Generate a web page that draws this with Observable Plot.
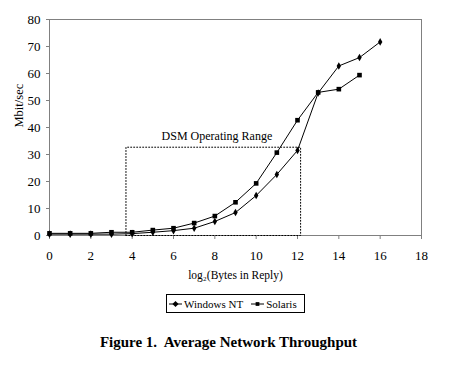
<!DOCTYPE html>
<html>
<head>
<meta charset="utf-8">
<script src="https://cdn.jsdelivr.net/npm/d3@7"></script>
<script src="https://cdn.jsdelivr.net/npm/@observablehq/plot@0.6"></script>
<style>
  html, body { margin: 0; padding: 0; background: #fff; }
  #wrap { position: relative; width: 455px; height: 365px; font-family: "Liberation Serif", "Times New Roman", serif; }
  #legend { position: absolute; left: 166px; top: 294px; width: 137px; height: 17px; border: 1px solid #000; box-sizing: content-box; display: flex; align-items: center; font-size: 11px; white-space: nowrap; }
  #legend .item { display: flex; align-items: center; margin-left: 2px; }
  #legend svg { display: block; margin-right: 2px; }
  #caption { position: absolute; left: 0; width: 457px; top: 334px; text-align: center; font-weight: bold; font-size: 15px; white-space: pre; }
</style>
</head>
<body>
<div id="wrap">
  <div id="chart"></div>
  <div id="legend"></div>
  <div id="caption"></div>
</div>
<script>
// ---- data ----
const xValues   = [0, 1, 2, 3, 4, 5, 6, 7, 8, 9, 10, 11, 12, 13, 14, 15, 16];
const windowsNT = [0.5, 0.5, 0.5, 0.5, 0.7, 1.2, 1.8, 2.7, 5.2, 8.5, 14.8, 22.6, 31.5, 52.8, 62.8, 65.9, 71.7];
const solarisX  = [0, 1, 2, 3, 4, 5, 6, 7, 8, 9, 10, 11, 12, 13, 14, 15];
const solaris   = [0.8, 0.8, 0.8, 1.2, 1.2, 2.0, 2.7, 4.6, 7.2, 12.3, 19.3, 30.7, 42.7, 53.0, 54.2, 59.4];
const seriesNames = ["Windows NT", "Solaris"];
const xTicks = [0, 2, 4, 6, 8, 10, 12, 14, 16, 18];
const yTicks = [0, 10, 20, 30, 40, 50, 60, 70, 80];
const dsmRangeX = [3.7, 12.15];
const dsmRangeTop = 32.7;
const dsmLabel = "DSM Operating Range";
const dsmLabelX = 8.1;
const dsmLabelY = 35.5;
const xLabel = "log\u2082(Bytes in Reply)";
const yLabel = "Mbit/sec";
const captionText = "Figure 1.  Average Network Throughput";

const nt = xValues.map((x, i) => ({x, y: windowsNT[i], s: seriesNames[0]}));
const sol = solarisX.map((x, i) => ({x, y: solaris[i], s: seriesNames[1]}));
const dsmBox = [
  {x: dsmRangeX[0], y: 0}, {x: dsmRangeX[0], y: dsmRangeTop},
  {x: dsmRangeX[1], y: dsmRangeTop}, {x: dsmRangeX[1], y: 0}, {x: dsmRangeX[0], y: 0}
];

const gray = "#808080";
const chart = Plot.plot({
  width: 455,
  height: 290,
  marginLeft: 49,
  marginRight: 34,
  marginTop: 19,
  marginBottom: 55,
  style: {fontFamily: "Liberation Serif, Times New Roman, serif", fontSize: "12px", background: "white", color: "black"},
  x: {domain: [0, 18]},
  y: {domain: [0, 80]},
  marks: [
    Plot.frame({stroke: gray}),
    Plot.axisX({ticks: xTicks, tickSize: 4, tickPadding: 11, stroke: gray, label: null, fontSize: 13}),
    Plot.axisY({ticks: yTicks, tickSize: 3, tickPadding: 6, stroke: gray, label: null, fontSize: 13}),
    Plot.line(dsmBox, {x: "x", y: "y", stroke: "black", strokeWidth: 1, strokeDasharray: "1,2"}),
    Plot.text([dsmLabel], {x: () => dsmLabelX, y: () => dsmLabelY, text: d => d, fontSize: 12, lineAnchor: "bottom"}),
    Plot.line(nt, {x: "x", y: "y", stroke: "black", strokeWidth: 1}),
    Plot.line(sol, {x: "x", y: "y", stroke: "black", strokeWidth: 1}),
    Plot.dot(nt, {x: "x", y: "y", symbol: "diamond", r: 2.3, fill: "black", stroke: "none"}),
    Plot.dot(sol, {x: "x", y: "y", symbol: "square", r: 2.6, fill: "black", stroke: "none"}),
    Plot.text([xLabel], {frameAnchor: "bottom", dy: 43, fontSize: 11.5, text: d => d}),
    Plot.text([yLabel], {frameAnchor: "left", dx: -31, rotate: -90, fontSize: 12.5, text: d => d})
  ]
});
document.getElementById("chart").appendChild(chart);

// legend
const legend = document.getElementById("legend");
seriesNames.forEach((name, i) => {
  const item = document.createElement("div");
  item.className = "item";
  if (i > 0) item.style.marginLeft = "8px";
  const sw = d3.create("svg").attr("width", 13).attr("height", 10);
  sw.append("line").attr("x1", 0).attr("x2", 13).attr("y1", 5).attr("y2", 5).attr("stroke", "black");
  sw.append("path").attr("transform", "translate(6.5,5)")
    .attr("d", d3.symbol(i === 0 ? d3.symbolDiamond2 : d3.symbolSquare2, i === 0 ? 24 : 18)())
    .attr("fill", "black");
  item.appendChild(sw.node());
  const t = document.createElement("span");
  t.textContent = name;
  item.appendChild(t);
  legend.appendChild(item);
});
document.getElementById("caption").textContent = captionText;
</script>
</body>
</html>
